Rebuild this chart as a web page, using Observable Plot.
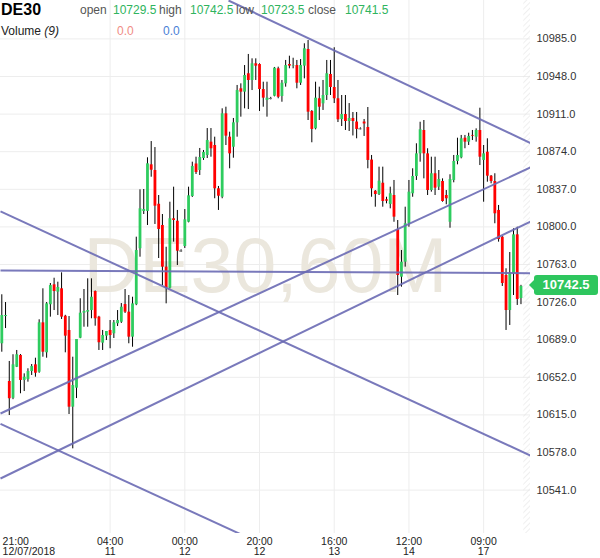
<!DOCTYPE html>
<html><head><meta charset="utf-8">
<script src="https://cdn.jsdelivr.net/npm/d3@7"></script>
<script src="https://cdn.jsdelivr.net/npm/@observablehq/plot@0.6"></script>
<style>
body{margin:0;background:#fff;font-family:"Liberation Sans",Arial,sans-serif;}
#wrap{position:relative;width:600px;height:558px;overflow:hidden;}
#chart svg{display:block;}
.h{position:absolute;white-space:nowrap;font-size:12px;line-height:14px;color:#555;}
#tag{position:absolute;background:#2ec65e;color:#fff;font-weight:bold;font-size:13px;border-radius:3px;text-align:center;}
#tag:before{content:"";position:absolute;left:-5px;top:50%;margin-top:-5px;border-top:5px solid transparent;border-bottom:5px solid transparent;border-right:5px solid #2ec65e;}
</style></head>
<body><div id="wrap"><div id="chart"></div></div>
<script>
// ---- data (DE30, 60M candles) ----
const symbol = "DE30";
const watermark = "DE30,60M";
const open = [
10685.0,10711.8,10647.9,10631.4,10661.9,10673.5,10648.9,10649.8,10657.7,10664.3,
10657.0,10705.6,10676.1,10723.4,10743.0,10735.8,10739.1,10712.1,10698.1,10622.6,
10641.3,10690.5,10715.1,10716.1,10717.7,10736.4,10711.2,10685.6,10692.5,10698.1,
10694.8,10704.7,10706.2,10723.6,10716.1,10691.5,10723.4,10778.5,10815.2,10815.2,
10861.1,10855.5,10822.3,10801.4,10760.4,10739.7,10808.0,10805.6,10776.3,10780.7,
10804.6,10829.9,10861.9,10855.5,10867.3,10870.3,10883.4,10880.1,10837.5,10829.2,
10911.3,10888.3,10878.4,10902.4,10935.9,10932.6,10950.7,10944.1,10960.5,10959.8,
10935.2,10924.4,10926.4,10928.6,10955.6,10928.3,10940.8,10959.8,10958.3,10958.8,
10941.4,10958.2,10974.6,10913.6,10896.5,10926.1,10921.1,10929.3,10950.0,10937.2,
10926.1,10905.7,10910.6,10903.7,10906.7,10903.2,10896.5,10903.2,10897.8,10865.8,
10835.1,10831.9,10843.0,10826.7,10822.1,10830.9,10797.2,10750.5,10765.3,10803.1,
10832.6,10849.6,10871.9,10894.9,10871.9,10835.8,10852.3,10839.1,10844.7,10830.9,
10804.6,10845.7,10864.4,10868.0,10887.3,10883.4,10890.0,10888.3,10894.9,10865.4,
10873.5,10849.9,10844.7,10816.2,10789.9,10752.2,10717.7,10753.9,10792.2,10729.5];
const high = [
10733.2,10725.6,10667.6,10674.2,10678.4,10674.4,10655.4,10660.4,10664.6,10670.8,
10708.6,10739.1,10725.6,10744.3,10749.5,10745.6,10754.8,10713.0,10711.8,10671.8,
10689.2,10729.3,10738.4,10748.9,10748.9,10737.0,10712.0,10698.1,10697.1,10707.9,
10707.9,10717.7,10724.6,10738.4,10732.5,10730.8,10789.9,10836.5,10836.8,10868.0,
10884.0,10878.1,10830.9,10812.2,10780.0,10824.3,10839.1,10816.2,10777.5,10817.1,
10839.1,10863.7,10868.6,10877.2,10875.2,10896.8,10896.8,10888.3,10839.8,10916.2,
10917.8,10893.2,10906.7,10939.2,10940.8,10958.8,10969.7,10965.4,10965.4,10960.5,
10942.4,10942.4,10927.5,10956.9,10957.2,10944.1,10963.8,10968.0,10966.0,10963.8,
10964.7,10980.2,10983.4,10914.5,10942.4,10937.5,10944.1,10963.8,10963.8,10976.3,
10944.1,10929.3,10929.3,10921.4,10912.6,10912.6,10897.5,10905.7,10917.5,10870.3,
10835.8,10858.8,10858.8,10829.2,10839.1,10845.7,10806.3,10776.8,10819.4,10845.7,
10857.2,10881.8,10903.0,10904.7,10876.9,10868.6,10868.6,10855.5,10847.3,10835.8,
10851.3,10870.3,10887.3,10890.0,10890.0,10892.2,10894.9,10896.5,10916.8,10880.1,
10886.7,10850.6,10852.3,10821.1,10790.5,10758.8,10774.8,10798.1,10799.7,10742.5];
const low = [
10676.7,10700.0,10614.4,10630.0,10661.6,10635.8,10638.0,10647.2,10653.8,10652.1,
10656.0,10671.8,10670.8,10711.2,10717.7,10712.8,10708.9,10676.1,10615.4,10581.6,
10631.1,10690.0,10701.3,10701.3,10709.6,10702.3,10678.4,10678.4,10688.2,10680.1,
10690.2,10702.0,10705.0,10714.8,10685.0,10681.6,10722.5,10770.2,10812.2,10801.4,
10848.9,10802.4,10768.9,10742.3,10724.3,10739.0,10785.0,10762.0,10775.0,10778.8,
10804.0,10829.0,10851.6,10850.6,10865.4,10867.3,10868.6,10827.7,10816.2,10827.7,
10880.1,10857.2,10867.6,10888.3,10908.0,10916.2,10915.5,10934.2,10944.1,10913.6,
10917.8,10908.0,10925.0,10928.0,10926.1,10922.7,10937.5,10955.6,10955.6,10935.9,
10939.2,10945.7,10904.7,10882.8,10895.5,10904.7,10914.6,10924.4,10929.3,10921.4,
10902.7,10898.8,10894.9,10893.9,10889.5,10886.7,10895.5,10889.0,10857.2,10829.2,
10819.4,10830.9,10819.4,10822.7,10817.8,10804.6,10732.5,10740.7,10760.4,10799.7,
10829.2,10845.7,10863.7,10847.3,10830.9,10834.2,10830.9,10835.8,10824.3,10821.8,
10798.7,10843.4,10861.1,10867.0,10876.9,10880.1,10885.0,10883.4,10860.4,10824.3,
10844.0,10842.4,10803.1,10785.0,10741.4,10698.1,10703.0,10732.5,10722.7,10723.5];
const close = [
10712.8,10712.8,10630.9,10664.3,10674.2,10648.9,10652.1,10657.7,10662.6,10656.0,
10705.6,10676.7,10724.3,10742.3,10736.4,10740.4,10711.2,10692.5,10622.6,10643.9,
10689.2,10715.1,10716.8,10717.7,10730.8,10709.6,10686.0,10693.1,10697.1,10693.1,
10705.6,10707.9,10721.0,10716.1,10691.5,10724.3,10776.8,10817.8,10817.1,10862.1,
10855.8,10820.4,10797.5,10760.4,10739.7,10808.0,10806.3,10776.1,10776.3,10807.0,
10830.6,10859.5,10853.5,10868.3,10873.2,10885.0,10876.9,10837.5,10830.2,10911.3,
10889.3,10871.9,10902.4,10934.2,10932.6,10949.0,10944.1,10960.5,10958.2,10935.2,
10926.7,10926.7,10926.4,10956.2,10927.6,10941.4,10958.8,10958.2,10958.8,10941.4,
10958.8,10975.3,10912.9,10895.9,10926.7,10917.8,10929.3,10950.7,10937.2,10926.1,
10905.4,10910.6,10903.7,10906.7,10903.7,10895.9,10896.5,10901.3,10865.4,10837.5,
10831.9,10845.0,10825.0,10825.3,10832.6,10809.6,10752.2,10765.3,10803.1,10834.2,
10849.6,10871.9,10895.6,10871.9,10835.8,10852.3,10838.1,10846.7,10825.0,10827.7,
10846.7,10864.4,10870.3,10886.7,10883.4,10889.0,10889.3,10894.9,10868.6,10871.9,
10849.9,10844.7,10812.9,10787.6,10744.3,10717.7,10753.9,10792.2,10728.6,10741.5];
const volumeLabel = "Volume";
const volumePeriod = 9;
const volumeValues = [0.0, 0.0];
const lastPriceTag = 10742.5;

// x-axis ticks (candle index, time, date)
const xTickIndex = [1, 29, 49, 69, 89, 109, 129];
const xTickTime = ["21:00","04:00","00:00","20:00","16:00","12:00","09:00"];
const xTickDate = ["12/07/2018","11","12","12","13","14","17"];
// y-axis ticks
const yTicks = [10541,10578,10615,10652,10689,10726,10763,10800,10837,10874,10911,10948,10985];

// trend lines drawn on the chart: start/end (candle index, price)
const lineK1 = [60.7, -0.35, -0.35, -0.35, -0.35, -0.35];
const lineP1 = [11022.8, 10757.1, 10815.2, 10606.2, 10616.4, 10552.4];
const lineK2 = [141.55, 141.55, 141.55, 66.6, 141.55, 141.55];
const lineP2 = [10882.5, 10754.5, 10575.0, 10493.1, 10858.5, 10805.3];

// ---- build ----
const GREEN = "#2ecc5f", RED = "#ff0000", LINE = "#6a6ab4";
const candles = open.map((o, i) => ({k: i, o, h: high[i], l: low[i], c: close[i]}));
const ups = candles.filter(d => d.c > d.o);
const downs = candles.filter(d => d.c < d.o);
const dojis = candles.filter(d => d.c === d.o);
const trend = lineK1.map((k, i) => ({k1: k, p1: lineP1[i], k2: lineK2[i], p2: lineP2[i]}));
const lastK = candles.length - 1;
const xMax = 141.55, xMin = -0.35;
const fontFam = '"Liberation Sans", Arial, sans-serif';

const chart = Plot.plot({
  width: 600, height: 558,
  marginTop: 0, marginRight: 70, marginBottom: 25, marginLeft: 0,
  style: {fontFamily: fontFam, background: "transparent", overflow: "visible"},
  x: {domain: [xMin, xMax], axis: null},
  y: {domain: [10498.3, 11022.8], axis: null},
  marks: [
    Plot.gridY(yTicks, {stroke: "#ededed", strokeOpacity: 1}),
    Plot.gridX(xTickIndex.slice(1), {stroke: "#ededed", strokeOpacity: 1}),
    Plot.rect([0], {x1: () => lastK + 0.75, x2: () => xMax, fill: "url(#hatch)"}),
    Plot.text([watermark], {text: d => d, frameAnchor: "middle", fontSize: 77, fill: "#ebe7dd"}),
    Plot.ruleX(candles, {x: "k", y1: "l", y2: "h", stroke: "#000", strokeWidth: 1}),
    Plot.ruleX(ups, {x: "k", y1: "o", y2: "c", stroke: GREEN, strokeWidth: 2.8}),
    Plot.ruleX(downs, {x: "k", y1: "o", y2: "c", stroke: RED, strokeWidth: 2.8}),
    Plot.ruleY(dojis, {y: "o", x1: d => d.k - 0.45, x2: d => d.k + 0.45, stroke: "#777", strokeWidth: 1}),
    Plot.link(trend, {x1: "k1", y1: "p1", x2: "k2", y2: "p2", stroke: LINE, strokeWidth: 2, strokeOpacity: 0.9, clip: true}),
    Plot.axisY(yTicks, {anchor: "right", tickSize: 0, tickPadding: 6, tickFormat: d => d.toFixed(1), fontSize: 11, fill: "#333"}),
    Plot.axisX(xTickIndex.slice(1), {anchor: "bottom", tickSize: 0, tickPadding: 4, fontSize: 10.5, fill: "#222", lineHeight: 1,
      tickFormat: d => { const i = xTickIndex.indexOf(d); return xTickTime[i] + "\n" + xTickDate[i]; }}),
    Plot.axisX([xTickIndex[0]], {anchor: "bottom", tickSize: 0, tickPadding: 4, fontSize: 10.5, fill: "#222", lineHeight: 1, textAnchor: "start", dx: -3,
      tickFormat: () => xTickTime[0] + "\n" + xTickDate[0]})
  ]
});

const ns = "http://www.w3.org/2000/svg";
const defs = document.createElementNS(ns, "defs");
defs.innerHTML = '<pattern id="hatch" width="4" height="4" patternUnits="userSpaceOnUse" patternTransform="rotate(45)"><line x1="0" y1="0" x2="0" y2="4" stroke="#e4e4e4" stroke-width="1.2"/></pattern>';
chart.insertBefore(defs, chart.firstChild);
const wrap = document.getElementById("wrap");
document.getElementById("chart").appendChild(chart);

// header (legend) overlay
const fmt = v => v.toFixed(1);
const items = [
  {t: symbol, l: 1, top: 1, s: "font-size:16px;font-weight:bold;color:#000;line-height:18px"},
  {t: "open", l: 80, top: 3}, {t: fmt(open[lastK]), l: 113, top: 3, c: "#2fb45e"},
  {t: "high", l: 159, top: 3}, {t: fmt(high[lastK]), l: 190, top: 3, c: "#2fb45e"},
  {t: "low", l: 236, top: 3}, {t: fmt(low[lastK]), l: 261, top: 3, c: "#2fb45e"},
  {t: "close", l: 308, top: 3}, {t: fmt(close[lastK]), l: 345, top: 3, c: "#2fb45e"},
  {h: volumeLabel + ' <i>(' + volumePeriod + ')</i>', l: 1, top: 24, c: "#222"},
  {t: fmt(volumeValues[0]), l: 117, top: 24, c: "#f08d85"},
  {t: fmt(volumeValues[1]), l: 163, top: 24, c: "#4b7fd6"}
];
for (const it of items) {
  const s = document.createElement("span");
  s.className = "h";
  s.style.left = it.l + "px"; s.style.top = it.top + "px";
  if (it.c) s.style.color = it.c;
  if (it.s) s.style.cssText += it.s;
  if (it.h) s.innerHTML = it.h; else s.textContent = it.t;
  wrap.appendChild(s);
}
// last price tag
const yPos = chart.scale("y").apply(lastPriceTag);
const xEnd = chart.scale("x").range[1];
const tag = document.createElement("div");
tag.id = "tag";
tag.textContent = fmt(lastPriceTag);
tag.style.left = (xEnd + 4) + "px"; tag.style.top = (yPos - 10) + "px";
tag.style.width = "64px"; tag.style.height = "20px"; tag.style.lineHeight = "20px";
wrap.appendChild(tag);
</script>
</body></html>
